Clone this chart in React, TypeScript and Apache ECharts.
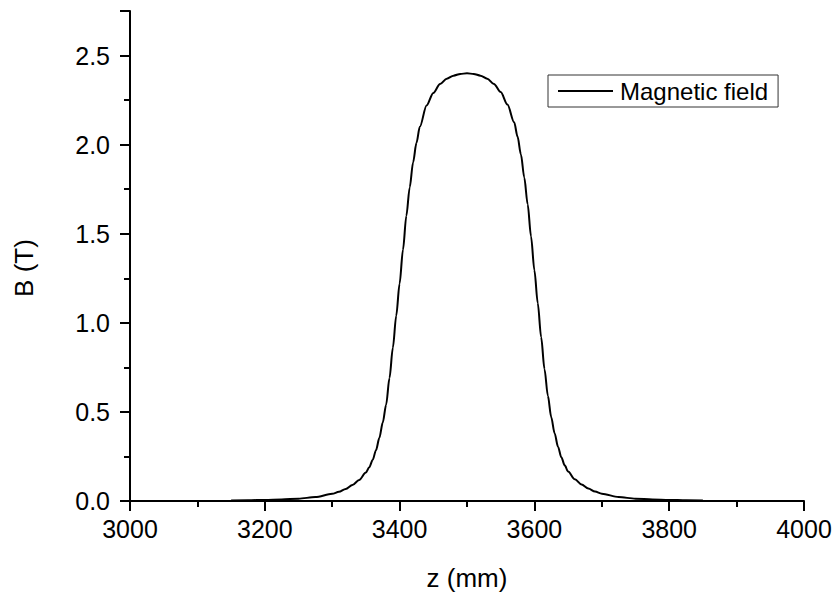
import React, { useEffect, useRef } from "react";
import * as echarts from "echarts";

const zValues: number[] = [
  3150, 3175, 3200, 3225, 3250, 3275, 3300, 3310, 3320, 3330, 3340, 3350, 3355, 3360, 3365,
  3370, 3375, 3380, 3385, 3390, 3395, 3400, 3405, 3410, 3415, 3420, 3425, 3430, 3440, 3450,
  3460, 3470, 3480, 3490, 3500, 3510, 3520, 3530, 3540, 3550, 3560, 3570, 3575, 3580, 3585,
  3590, 3595, 3600, 3605, 3610, 3615, 3620, 3625, 3630, 3635, 3640, 3645, 3650, 3660, 3670,
  3680, 3690, 3700, 3725, 3750, 3775, 3800, 3825, 3850,
];
const bValues: number[] = [
  0.003, 0.004, 0.006, 0.009, 0.013, 0.022, 0.04, 0.052, 0.068, 0.09, 0.118, 0.16, 0.19, 0.23, 0.285,
  0.355, 0.44, 0.54, 0.69, 0.86, 1.04, 1.22, 1.41, 1.6, 1.76, 1.9, 2.01, 2.1, 2.22, 2.29,
  2.34, 2.37, 2.387, 2.397, 2.4, 2.397, 2.387, 2.37, 2.34, 2.295, 2.225, 2.125, 2.045, 1.945, 1.815,
  1.665, 1.485, 1.295, 1.11, 0.92, 0.74, 0.59, 0.47, 0.38, 0.305, 0.245, 0.2, 0.165, 0.122, 0.092,
  0.07, 0.053, 0.041, 0.022, 0.013, 0.009, 0.006, 0.004, 0.003,
];
const seriesName = "Magnetic field";
const xTitle = "z (mm)";
const yTitle = "B (T)";
const xMin = 3000, xMax = 4000, xMajor = 200;
const yMin = 0, yMax = 2.75, yMajor = 0.5;

const FONT = "'Liberation Sans', Arial, sans-serif";

export default function App() {
  const ref = useRef<HTMLDivElement>(null);
  useEffect(() => {
    if (!ref.current) return;
    const chart = echarts.init(ref.current, undefined, { renderer: "svg" });
    const lineBlack = { color: "#000", width: 2 };
    chart.setOption({
      animation: false,
      backgroundColor: "#fff",
      textStyle: { fontFamily: FONT },
      grid: { left: 130, right: 33, top: 11, bottom: 92 },
      legend: {
        show: true,
        data: [{ name: seriesName, icon: "rect" }],
        left: 548,
        top: 75,
        orient: "horizontal",
        borderColor: "#333",
        borderWidth: 1,
        borderRadius: 0,
        padding: [4, 10, 4, 10],
        itemWidth: 55,
        itemHeight: 2,
        itemGap: 8,
        itemStyle: { color: "#000", borderWidth: 0 },
        lineStyle: { width: 0 },
        textStyle: { fontFamily: FONT, fontSize: 24, color: "#000", padding: [0, 0, 0, 2] },
      },
      xAxis: {
        type: "value",
        min: xMin,
        max: xMax,
        interval: xMajor,
        name: xTitle,
        nameLocation: "middle",
        nameGap: 64,
        nameTextStyle: { fontFamily: FONT, fontSize: 26, color: "#000" },
        axisLabel: { margin: 15, fontFamily: FONT, fontSize: 25, color: "#000", formatter: (v: number) => String(v) },
        axisLine: { show: true, onZero: false, lineStyle: lineBlack },
        axisTick: { show: true, length: 10, lineStyle: lineBlack },
        minorTick: { show: true, splitNumber: 2, length: 6, lineStyle: lineBlack },
        splitLine: { show: false },
      },
      yAxis: {
        type: "value",
        min: yMin,
        max: yMax,
        interval: yMajor,
        name: yTitle,
        nameLocation: "middle",
        nameGap: 93,
        nameRotate: 90,
        nameTextStyle: { fontFamily: FONT, fontSize: 26, color: "#000", padding: [0, 24, 0, 0] },
        axisLabel: {
          margin: 20,
          fontFamily: FONT,
          fontSize: 25,
          color: "#000",
          showMaxLabel: false,
          formatter: (v: number) => (v > 2.6 ? "" : v.toFixed(1)),
        },
        axisLine: { show: true, onZero: false, lineStyle: lineBlack },
        axisTick: { show: true, length: 10, lineStyle: lineBlack },
        minorTick: { show: true, splitNumber: 2, length: 6, lineStyle: lineBlack },
        splitLine: { show: false },
      },
      series: [
        {
          name: seriesName,
          type: "line",
          data: zValues.map((z, i) => [z, bValues[i]]),
          symbol: "none",
          showSymbol: false,
          smooth: 0.3,
          smoothMonotone: "x",
          lineStyle: { color: "#000", width: 2 },
          itemStyle: { color: "#000" },
        },
      ],
    });
    return () => chart.dispose();
  }, []);
  return <div ref={ref} style={{ width: 837, height: 596, position: "absolute", left: 0, top: 0 }} />;
}
